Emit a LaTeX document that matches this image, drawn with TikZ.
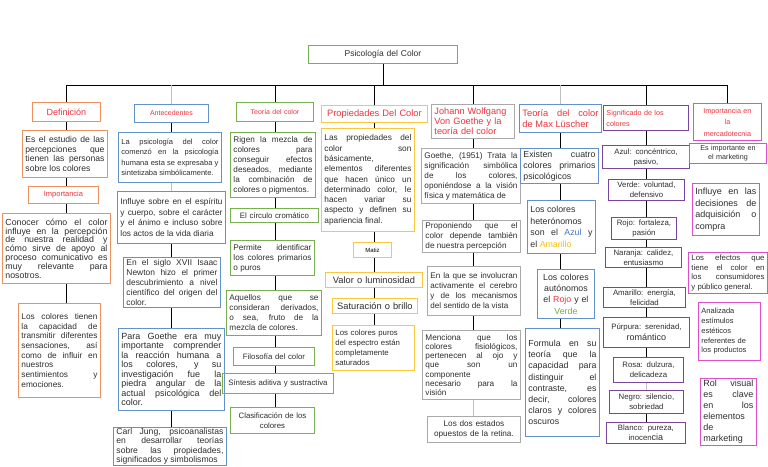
\documentclass[tikz,border=0pt]{standalone}
\usepackage{fontspec}
\setmainfont{Liberation Sans}
\usetikzlibrary{calc}

\definecolor{corange}{RGB}{237,145,95}
\definecolor{cblue}{RGB}{100,145,200}
\definecolor{cgreen}{RGB}{120,175,80}
\definecolor{cgold}{RGB}{250,200,60}
\definecolor{cgray}{RGB}{170,170,170}
\definecolor{cpurple}{RGB}{120,70,160}
\definecolor{cmag}{RGB}{220,80,200}
\definecolor{cred}{RGB}{235,50,60}
\definecolor{txt}{RGB}{45,45,45}
\definecolor{cazul}{RGB}{68,114,196}
\definecolor{camar}{RGB}{255,192,0}
\definecolor{cverde}{RGB}{112,173,71}

\begin{document}
\begin{tikzpicture}[x=1pt,y=-1pt,
	fs/.style 2 args={font=\fontsize{#1}{#2}\selectfont},
	box/.style={draw, line width=0.9pt, anchor=north west, inner xsep=3pt, inner ysep=1pt, text=txt, align=justify, fs={7.8}{10}},
	obox/.style={box, draw=corange},
	bbox/.style={box, draw=cblue},
	gbox/.style={box, draw=cgreen},
	ybox/.style={box, draw=cgold},
	kbox/.style={box, draw=cgray},
	pbox/.style={box, draw=cpurple, align=center},
	mbox/.style={box, draw=cmag},
	head/.style={text=cred},
	link/.style={line width=0.9pt},
	faint/.style={line width=0.9pt, draw=black!25}]
	
	\useasboundingbox (0,0) rectangle (768,466);
	
	\node[gbox, align=center, text width=143pt, minimum height=18pt, fs={8.5}{10}] (title) at (308,45) {Psicología del Color};
	
	% encabezados
	\node[obox, head, align=center, text width=62pt, minimum height=19pt, fs={9}{10}] (def) at (32,102) {Definición};
	\node[bbox, head, align=center, text width=68pt, minimum height=18pt, fs={7}{8}] (ant) at (134,104) {Antecedentes};
	\node[gbox, head, align=center, text width=71pt, minimum height=19pt, fs={7}{8}] (teo) at (236,102) {Teoría del color};
	\node[ybox, head, align=center, text width=100pt, minimum height=17pt, fs={9.3}{10}] (pro) at (321,105) {Propiedades Del Color};
	\node[kbox, head, align=left, text width=77pt, minimum height=34pt, fs={9.2}{10.2}] (goe) at (431,104) {Johann Wolfgang\\ Von Goethe y la\\ teoría del color};
	\node[bbox, head, text width=76pt, minimum height=28pt, fs={9.3}{11.5}] (lus) at (519,104) {Teoría del color\linebreak de Max Lüscher};
	\node[pbox, head, align=left, text width=79pt, minimum height=25pt, fs={7.2}{11}] (sig) at (603,105) {Significado de los\\ colores};
	\node[mbox, head, align=center, text width=62pt, minimum height=37pt, fs={7.2}{11.5}] (mer) at (693,103) {Importancia en\\ la\\ mercadotecnia};
	
	% definicion
	\node[obox, text width=79pt, minimum height=47pt, fs={8.6}{9.5}] (d1) at (22,130) {Es el estudio de las\linebreak percepciones que\linebreak tienen las personas\linebreak sobre los colores};
	\node[obox, head, align=center, text width=64pt, minimum height=17pt, fs={7.5}{9}] (d2) at (28,186) {Importancia};
	\node[obox, text width=102pt, minimum height=70pt, fs={8.8}{8.8}] (d3) at (2,213) {Conocer cómo el color\linebreak influye en la percepción\linebreak de nuestra realidad y\linebreak cómo sirve de apoyo al\linebreak proceso comunicativo es\linebreak muy relevante para\linebreak nosotros.};
	\node[obox, text width=76pt, minimum height=94pt, fs={8.3}{9.7}] (d4) at (18,303) {Los colores tienen\linebreak la capacidad de\linebreak transmitir diferentes\linebreak sensaciones, así\linebreak como de influir en\linebreak nuestros\\ sentimientos y\linebreak emociones.};
	
	% antecedentes
	\node[bbox, text width=97pt, minimum height=50pt, fs={7.5}{10.5}] (a1) at (118,132) {La psicología del color\linebreak comenzó en la psicología\linebreak humana esta se expresaba y\linebreak sintetizaba simbólicamente.};
	\node[bbox, text width=102pt, minimum height=52pt, fs={8.3}{10.5}] (a2) at (117,191) {Influye sobre en el espíritu\linebreak y cuerpo, sobre el carácter\linebreak y el ánimo e incluso sobre\linebreak los actos de la vida diaria};
	\node[bbox, text width=91pt, minimum height=50pt, fs={8.4}{9.8}] (a3) at (123,257) {En el siglo XVII Isaac\linebreak Newton hizo el primer\linebreak descubrimiento a nivel\linebreak científico del origen del\linebreak color.};
	\node[bbox, text width=100pt, minimum height=82pt, fs={9}{9.5}] (a4) at (118,328) {Para Goethe era muy\linebreak importante comprender\linebreak la reacción humana a\linebreak los colores, y su\linebreak investigación fue la\linebreak piedra angular de la\linebreak actual psicológica del\linebreak color.};
	\node[bbox, text width=107pt, minimum height=37pt, fs={8.6}{9.2}] (a5) at (113,427) {Carl Jung, psicoanalistas\linebreak en desarrollar teorías\linebreak sobre las propiedades,\linebreak significados y simbolismos};
	
	% teoria del color
	\node[gbox, text width=79pt, minimum height=65pt, fs={8.2}{10}] (t1) at (230,132) {Rigen la mezcla de\linebreak colores para\linebreak conseguir efectos\linebreak deseados, mediante\linebreak la combinación de\linebreak colores o pigmentos.};
	\node[gbox, align=center, text width=82pt, minimum height=14pt] (t2) at (230,208) {El círculo cromático};
	\node[gbox, text width=78pt, minimum height=35pt, fs={8.2}{10}] (t3) at (230,240) {Permite identificar\linebreak los colores primarios\linebreak o puros};
	\node[gbox, text width=89pt, minimum height=45pt, fs={8.2}{10}] (t4) at (226,290) {Aquellos que se\linebreak consideran derivados,\linebreak o sea, fruto de la\linebreak mezcla de colores.};
	\node[gbox, align=center, text width=75pt, minimum height=18pt] (t5) at (233,347) {Filosofía del color};
	\node[gbox, align=center, text width=105pt, minimum height=20pt] (t6) at (222,373) {Síntesis aditiva y sustractiva};
	\node[gbox, align=center, text width=78pt, minimum height=26pt] (t7) at (230,407) {Clasificación de los\\ colores};
	
	% propiedades
	\node[ybox, text width=87pt, minimum height=103pt, fs={8.3}{10.3}] (p1) at (321,128) {Las propiedades del\linebreak color son\linebreak básicamente,\\ elementos diferentes\linebreak que hacen único un\linebreak determinado color, le\linebreak hacen variar su\linebreak aspecto y definen su\linebreak apariencia final.};
	\node[ybox, align=center, text width=32pt, minimum height=15pt, fs={6}{7}, text=black] (p2) at (353,242) {Matiz};
	\node[ybox, align=center, text width=91pt, minimum height=15pt, fs={9.3}{10}] (p3) at (325,272) {Valor o luminosidad};
	\node[ybox, align=center, text width=79pt, minimum height=15pt, fs={9.3}{10}] (p4) at (332,298) {Saturación o brillo};
	\node[ybox, align=left, text width=76pt, minimum height=45pt] (p5) at (332,325) {Los colores puros\\ del espectro están\\ completamente\\ saturados};
	
	% goethe
	\node[kbox, text width=93pt, minimum height=55pt, fs={8.2}{10}] (g1) at (421,148) {Goethe, (1951) Trata la\linebreak significación simbólica\linebreak de los colores,\linebreak oponiéndose a la visión\linebreak física y matemática de};
	\node[kbox, text width=92pt, minimum height=32pt, fs={8.2}{10}] (g2) at (422,220) {Proponiendo que el\linebreak color depende también\linebreak de nuestra percepción};
	\node[kbox, text width=87pt, minimum height=49pt, fs={8.1}{10}] (g3) at (427,266) {En la que se involucran\linebreak activamente el cerebro\linebreak y de los mecanismos\linebreak del sentido de la vista};
	\node[kbox, text width=92pt, minimum height=69pt, fs={8.2}{9.2}] (g4) at (422,330) {Menciona que los\linebreak colores fisiológicos,\linebreak pertenecen al ojo y\linebreak que son un\linebreak componente\\ necesario para la\linebreak visión};
	\node[kbox, align=center, text width=87pt, minimum height=26pt, fs={8.2}{10}] (g5) at (427,416) {Los dos estados\\ opuestos de la retina.};
	
	% luscher
	\node[bbox, text width=72pt, minimum height=35pt, fs={8.8}{11}] (l1) at (520,148) {Existen cuatro\linebreak colores primarios\linebreak psicológicos};
	\node[bbox, text width=62pt, minimum height=53pt, fs={8.8}{11.5}] (l2) at (527,200) {Los colores\\ heterónomos\\ son el \textcolor{cazul}{Azul} y\linebreak el \textcolor{camar}{Amarillo}};
	\node[bbox, align=center, text width=51pt, minimum height=49pt, fs={8.8}{11.3}] (l3) at (537,269) {Los colores\\ autónomos\\ el \textcolor{cred}{Rojo} y el\\ \textcolor{cverde}{Verde}};
	\node[bbox, text width=68pt, minimum height=108pt, fs={8.8}{11.2}] (l4) at (525,328) {Formula en su\linebreak teoría que la\linebreak capacidad para\linebreak distinguir el\linebreak contraste, es\linebreak decir, colores\linebreak claros y colores\linebreak oscuros};
	
	% significado
	\node[pbox, text width=81pt, minimum height=23pt] (s1) at (602,145) {Azul: concéntrico,\\ pasivo,};
	\node[pbox, text width=70pt, minimum height=21pt] (s2) at (608,179) {Verde: voluntad,\\ defensivo};
	\node[pbox, text width=59pt, minimum height=22pt] (s3) at (611,217) {Rojo: fortaleza,\\ pasión};
	\node[pbox, text width=70pt, minimum height=20pt] (s4) at (605,247) {Naranja: calidez,\\ entusiasmo};
	\node[pbox, text width=76pt, minimum height=20pt] (s5) at (603,287) {Amarillo: energía,\\ felicidad};
	\node[pbox, text width=80pt, minimum height=30pt, fs={7.8}{11}] (s6) at (603,317) {Púrpura: serenidad,\\ {\fontsize{9}{11}\selectfont romántico}};
	\node[pbox, text width=64pt, minimum height=25pt] (s7) at (613,357) {Rosa: dulzura,\\ delicadeza};
	\node[pbox, text width=68pt, minimum height=23pt] (s8) at (609,390) {Negro: silencio,\\ sobriedad};
	\node[pbox, text width=73pt, minimum height=21pt] (s9) at (606,422) {Blanco: pureza,\\ inocen{\fontsize{9}{10}\selectfont cia}};
	
	% mercadotecnia
	\node[mbox, align=center, text width=71pt, minimum height=20pt, fs={7.2}{9}] (m1) at (689,143) {Es importante en\\ el marketing};
	\node[mbox, text width=61pt, minimum height=52pt, fs={9}{11.5}] (m2) at (692,183) {Influye en las\linebreak decisiones de\linebreak adquisición o\linebreak compra};
	\node[mbox, text width=73pt, minimum height=41pt, fs={7.8}{9.7}] (m3) at (688,252) {Los efectos que\linebreak tiene el color en\linebreak los consumidores\linebreak y público general.};
	\node[mbox, align=left, text width=56pt, minimum height=58pt, fs={7.5}{9.7}] (m4) at (698,302) {Analizada\\ estímulos\\ estéticos\\ referentes de\\ los productos};
	\node[mbox, text width=50pt, minimum height=67pt, fs={9}{11}] (m5) at (700,378) {Rol visual\linebreak es clave\linebreak en los\linebreak elementos\\ de\\ marketing};
	
	% conectores
	\coordinate (bar) at (0,85);
	\draw[link] (title.south) -- (title.south |- bar);
	\draw[link] (def.north |- bar) -- (mer.north |- bar);
	\foreach \h in {def,teo,pro,goe,sig,mer}
		\draw[link] (\h.north) -- (\h.north |- bar);
	\foreach \h in {ant,lus}
		\draw[faint] (\h.north) -- (\h.north |- bar);
	
	\foreach \a/\b in {def/d1,d1/d2,d2/d3,d3/d4}
		\draw[link] (\a.south -| def.south) -- (\b.north -| def.south);
	\foreach \a/\b in {ant/a1,a2/a3,a3/a4,a4/a5}
		\draw[link] (\a.south -| ant.south) -- (\b.north -| ant.south);
	\draw[faint] (a1.south -| ant.south) -- (a2.north -| ant.south);
	\foreach \a/\b in {teo/t1,t1/t2,t2/t3,t3/t4,t4/t5,t5/t6,t6/t7}
		\draw[link] (\a.south -| teo.south) -- (\b.north -| teo.south);
	\foreach \a/\b in {pro/p1,p1/p2,p2/p3,p3/p4,p4/p5}
		\draw[link] (\a.south -| pro.south) -- (\b.north -| pro.south);
	\foreach \a/\b in {goe/g1,g1/g2,g2/g3,g3/g4}
		\draw[link] (\a.south -| goe.south) -- (\b.north -| goe.south);
	\draw[faint] (g4.south -| goe.south) -- (g5.north -| goe.south);
	\foreach \a/\b in {lus/l1,l1/l2,l2/l3,l3/l4}
		\draw[link] (\a.south -| lus.south) -- (\b.north -| lus.south);
	\foreach \a/\b in {sig/s1,s1/s2,s2/s3,s3/s4,s4/s5,s5/s6,s6/s7,s8/s9}
		\draw[link] (\a.south -| sig.south) -- (\b.north -| sig.south);
	\draw[faint] (s7.south -| sig.south) -- (s8.north -| sig.south);
	%\node at (384,455) {};
\end{tikzpicture}
\end{document}
